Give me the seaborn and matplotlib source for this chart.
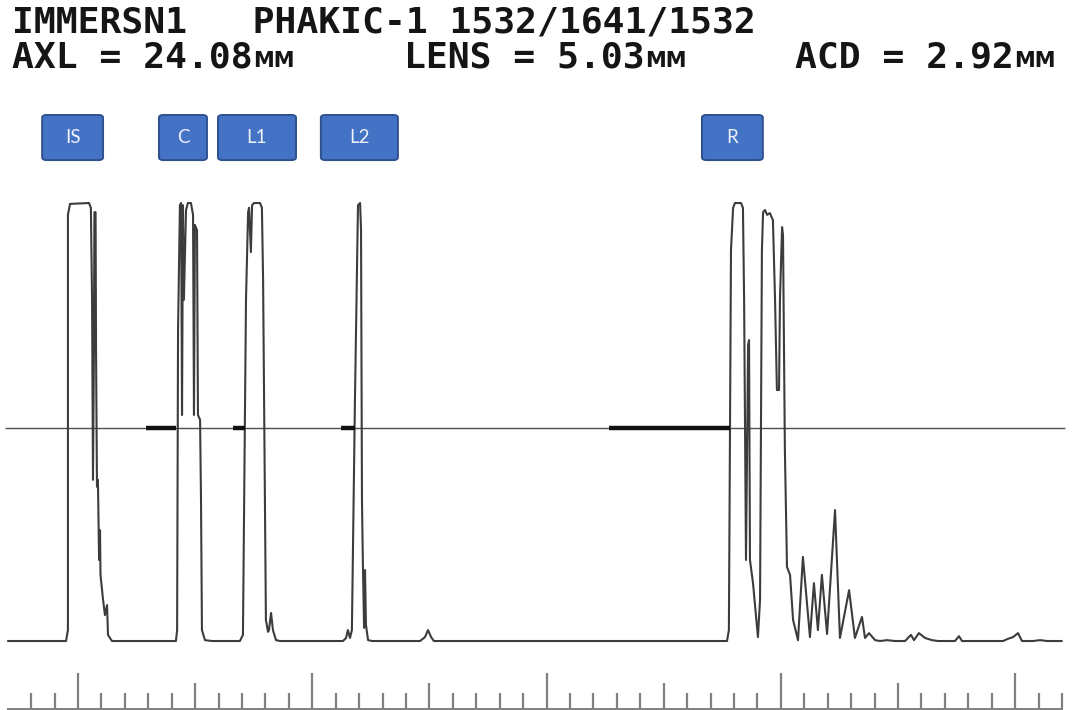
import matplotlib
matplotlib.use("Agg")
import matplotlib.pyplot as plt
import pandas as pd
import seaborn as sns
from matplotlib.patches import FancyBboxPatch

# ---- header text -------------------------------------------------------
header_line1 = "IMMERSN1   PHAKIC-1 1532/1641/1532"
measure_names = ["AXL", "LENS", "ACD"]
measure_values = ["24.08", "5.03", "2.92"]
measure_unit = "MM"

# ---- echo labels (centre and width along the depth axis) -------------
echo_labels = ["IS", "C", "L1", "L2", "R"]
echo_label_x = [-0.23, 4.48, 7.64, 12.01, 27.93]
echo_label_w = [2.60, 2.05, 3.33, 3.29, 2.60]

# ---- gate threshold (% of full scale) and gate intervals ------------
threshold = 48.6
gate_start = [2.90, 6.62, 11.22, 22.66]
gate_end = [4.18, 7.13, 11.82, 27.83]

# ---- depth ruler ticks -------------------------------------------------
ruler_ticks = list(range(-2, 43))

# ---- A-scan trace: depth vs echo amplitude (%) -----------------------
depth = [
    # probe / immersion shell
    -2.99, -0.51, -0.43, -0.43, -0.34, 0.47, 0.55, 0.60, 0.64, 0.68, 0.70,
    0.75, 0.77, 0.81, 0.85, 0.90, 0.94, 0.96, 1.07, 1.15, 1.24, 1.28, 1.45,
    # cornea
    4.18, 4.23, 4.27, 4.35, 4.40, 4.44, 4.48, 4.52, 4.61, 4.69, 4.82, 4.91,
    4.95, 4.99, 5.08, 5.12, 5.21, 5.25, 5.29, 5.42, 5.72,
    # anterior lens
    6.91, 7.04, 7.17, 7.26, 7.30, 7.38, 7.43, 7.51, 7.77, 7.85, 7.90, 8.02,
    8.11, 8.15, 8.24, 8.32, 8.45, 8.62,
    # posterior lens
    11.31, 11.44, 11.52, 11.61, 11.69, 11.82, 11.95, 12.04, 12.08, 12.12,
    12.16, 12.21, 12.25, 12.29, 12.38, 12.55,
    # vitreous
    14.60, 14.81, 14.94, 15.07, 15.19,
    # retina, sclera and orbital fat
    27.70, 27.78, 27.87, 27.96, 28.04, 28.30, 28.38, 28.43, 28.51, 28.60,
    28.64, 28.68, 28.81, 29.02, 29.11, 29.19, 29.24, 29.32, 29.41, 29.53,
    29.66, 29.75, 29.83, 29.92, 29.96, 30.05, 30.09, 30.17, 30.26, 30.39,
    30.52, 30.73, 30.94, 31.24, 31.41, 31.58, 31.75, 31.97, 32.31, 32.52,
    32.91, 33.16, 33.46, 33.59, 33.76, 34.02, 34.23, 34.53, 34.87, 35.30,
    35.55, 35.68, 35.89, 36.15, 36.45, 36.71, 37.43, 37.60, 37.73, 39.48,
    39.69, 39.91, 40.12, 40.29, 40.76, 41.06, 41.36, 41.99,
]
amplitude = [
    0.0, 0.0, 2.5, 97.3, 99.8, 100.0, 98.9, 77.9, 36.8, 66.4, 97.9,
    97.9, 66.4, 35.2, 36.8, 18.5, 25.3, 15.1, 9.4, 5.9, 8.2, 1.4, 0.0,
    0.0, 2.5, 71.0, 99.5, 100.0, 51.6, 99.5, 77.9, 98.4, 100.0, 100.0, 97.3,
    51.6, 95.0, 93.8, 51.6, 50.5, 32.2, 2.5, 0.2, 0.0,
    0.0, 1.4, 77.9, 97.9, 98.9, 88.8, 99.5, 100.0, 100.0, 98.9, 82.4, 4.8,
    2.1, 2.5, 6.4, 2.5, 0.2, 0.0,
    0.0, 0.7, 2.5, 0.7, 2.5, 55.0, 99.5, 100.0, 93.8, 32.2,
    17.4, 3.0, 16.2, 3.7, 0.2, 0.0,
    0.0, 0.9, 2.5, 0.9, 0.0,
    0.0, 2.5, 89.3, 98.9, 100.0, 100.0, 98.9, 77.9, 18.5, 67.6,
    68.7, 18.5, 13.2, 0.9, 9.4, 89.3, 97.9, 98.4, 97.3, 97.7,
    96.1, 77.9, 57.3, 57.3, 77.9, 94.5, 92.7, 43.6, 16.9, 15.1,
    4.8, 0.2, 19.2, 0.9, 13.2, 2.5, 15.1, 1.6, 29.9, 0.7,
    11.6, 0.7, 5.5, 0.7, 1.8, 0.2, 0.0, 0.2, 0.0, 0.0,
    1.4, 0.2, 1.8, 0.7, 0.2, 0.0, 0.0, 1.1, 0.0, 0.0,
    0.5, 0.9, 1.8, 0.0, 0.0, 0.2, 0.0, 0.0,
]

trace = pd.DataFrame({"depth": depth, "amplitude": amplitude})

sns.set_theme(style="white")
plt.rcParams["font.family"] = ["DejaVu Sans"]

W, H = 1073, 710
fig = plt.figure(figsize=(W / 100, H / 100), dpi=100)
fig.patch.set_facecolor("white")
ax = fig.add_axes([0, 0, 1, 1])
ax.set_facecolor("white")

# waveform
sns.lineplot(data=trace, x="depth", y="amplitude", sort=False, estimator=None,
             color="#3c3c3c", linewidth=1.5, ax=ax)

# threshold line and gates
ax.hlines(threshold, -3.12, 42.12, color="#505050", linewidth=1.0, zorder=1)
ax.hlines([threshold] * len(gate_start), gate_start, gate_end,
          color="#111111", linewidth=3.2, zorder=3)

# depth ruler along the bottom
ruler_base = -15.45
ax.hlines(ruler_base, -3.03, 42.04, color="#808080", linewidth=1.4)
for t in ruler_ticks:
    if t % 10 == 0:
        top = -7.3
    elif t % 5 == 0:
        top = -9.6
    else:
        top = -11.9
    ax.vlines(t, ruler_base, top, color="#808080", linewidth=1.6)

ax.set_xlim(-3.329, 42.467)
ax.set_ylim(-15.75, 146.35)
ax.axis("off")

# echo label boxes, drawn in figure space so the rounded corners stay round
to_px = ax.transData
box_bottom, box_top = 109.8, 120.1
for lab, cx, w in zip(echo_labels, echo_label_x, echo_label_w):
    x_left, y_bot = to_px.transform((cx - w / 2, box_bottom))
    x_right, y_top = to_px.transform((cx + w / 2, box_top))
    fig.patches.append(FancyBboxPatch(
        (x_left / W, y_bot / H), (x_right - x_left) / W, (y_top - y_bot) / H,
        boxstyle="round,pad=0,rounding_size=0.004",
        transform=fig.transFigure, facecolor="#4472c4", edgecolor="#2f528f",
        linewidth=1.4, zorder=4))
    fig.text((x_left + x_right) / 2 / W, (y_bot + y_top) / 2 / H, lab,
             ha="center", va="center", color="#eef3fb", fontsize=13.5,
             family=["Lato", "DejaVu Sans"], zorder=6)

# header, laid out on the printer's fixed character grid
mono = "DejaVu Sans Mono"
char_w = 21.75
x0 = 12
ink = "#151515"
fig.text(x0 / W, 1 - 33 / H, header_line1, family=mono, fontsize=26.2,
         color=ink, va="baseline", ha="left", weight="bold")
for i, (name, val) in enumerate(zip(measure_names, measure_values)):
    col = 18 * i
    s = f"{name} = {val}"
    fig.text((x0 + col * char_w) / W, 1 - 67 / H, s, family=mono,
             fontsize=26.2, color=ink, va="baseline", ha="left",
             weight="bold")
    fig.text((x0 + (col + len(s)) * char_w + 2) / W, 1 - 67 / H,
             measure_unit, family="DejaVu Sans", fontsize=15, color=ink,
             va="baseline", ha="left", weight="bold")

fig.savefig("out.png", dpi=100, facecolor="white")
